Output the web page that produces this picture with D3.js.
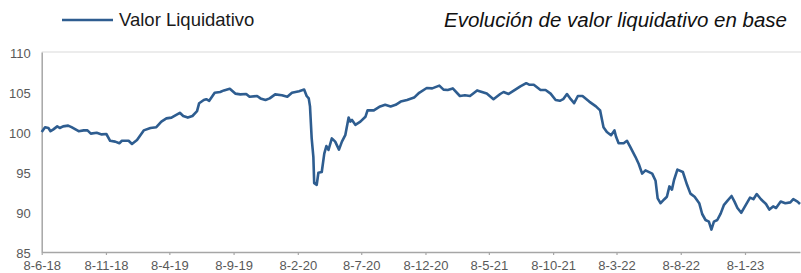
<!DOCTYPE html>
<html>
<head>
<meta charset="utf-8">
<script src="https://cdn.jsdelivr.net/npm/d3@7"></script>
<style>
  body { margin: 0; background: #fff; }
  svg { display: block; font-family: "Liberation Sans", Arial, sans-serif; }
</style>
</head>
<body>
<div id="chart-area"></div>
<script>
// values
let dates = [
  "2018-06-08","2018-06-16","2018-06-24","2018-06-29","2018-07-05","2018-07-15","2018-07-21","2018-07-29",
  "2018-08-10","2018-08-18","2018-09-04","2018-09-16","2018-09-25","2018-10-03","2018-10-17","2018-10-29",
  "2018-11-09","2018-11-18","2018-11-30","2018-12-10","2018-12-16","2019-01-01","2019-01-09","2019-01-21",
  "2019-02-06","2019-02-22","2019-03-08","2019-03-20","2019-04-01","2019-04-13","2019-05-03","2019-05-11",
  "2019-05-22","2019-06-02","2019-06-13","2019-06-18","2019-06-29","2019-07-05","2019-07-12","2019-07-25",
  "2019-08-07","2019-08-16","2019-08-30","2019-09-12","2019-09-24","2019-10-08","2019-10-16","2019-11-03",
  "2019-11-11","2019-11-23","2019-12-03","2019-12-16","2020-01-01","2020-01-14","2020-01-25","2020-02-11",
  "2020-02-23","2020-02-29","2020-03-05","2020-03-08","2020-03-12","2020-03-16","2020-03-18","2020-03-24",
  "2020-03-28","2020-04-05","2020-04-11","2020-04-16","2020-04-21","2020-04-29","2020-05-07","2020-05-16",
  "2020-05-23","2020-05-31","2020-06-08","2020-06-12","2020-06-16","2020-06-24","2020-07-06","2020-07-18",
  "2020-07-23","2020-08-07","2020-08-22","2020-09-03","2020-09-16","2020-09-28","2020-10-10","2020-10-25",
  "2020-11-11","2020-11-23","2020-12-11","2020-12-24","2021-01-10","2021-01-20","2021-01-30","2021-02-11",
  "2021-02-28","2021-03-12","2021-03-24","2021-04-10","2021-05-03","2021-05-19","2021-06-04","2021-06-12",
  "2021-06-24","2021-07-10","2021-07-22","2021-08-05","2021-08-13","2021-08-23","2021-09-08","2021-09-20",
  "2021-10-02","2021-10-14","2021-10-24","2021-11-01","2021-11-10","2021-11-19","2021-11-27","2021-12-06",
  "2021-12-17","2022-01-02","2022-01-18","2022-01-28","2022-02-05","2022-02-13","2022-02-23","2022-03-03",
  "2022-03-07","2022-03-13","2022-03-25","2022-04-02","2022-04-10","2022-04-22","2022-04-30","2022-05-08",
  "2022-05-16","2022-06-01","2022-06-09","2022-06-14","2022-06-21","2022-06-30","2022-07-06","2022-07-12",
  "2022-07-18","2022-07-23","2022-07-31","2022-08-13","2022-08-23","2022-08-31","2022-09-10","2022-09-21",
  "2022-09-28","2022-10-06","2022-10-14","2022-10-20","2022-10-26","2022-11-03","2022-11-11","2022-11-19",
  "2022-11-27","2022-12-07","2022-12-14","2022-12-21","2022-12-30","2023-01-10","2023-01-20","2023-01-28",
  "2023-02-05","2023-02-15","2023-02-27","2023-03-07","2023-03-16","2023-03-23","2023-04-03","2023-04-14",
  "2023-04-26","2023-05-03","2023-05-13","2023-05-19"
]
let values = [
  100.0,100.6,100.5,100.1,100.3,100.7,100.5,100.7,
  100.8,100.6,100.1,100.2,100.2,99.8,99.9,99.7,
  99.75,98.9,98.8,98.6,98.9,98.9,98.5,99.0,
  100.2,100.5,100.6,101.3,101.7,101.8,102.4,102.0,
  101.8,102.0,102.6,103.6,104.0,104.1,103.9,104.9,
  105.0,105.2,105.4,104.8,104.7,104.75,104.4,104.5,
  104.2,104.0,104.2,104.7,104.6,104.4,104.9,105.1,
  105.3,104.5,104.2,103.2,99.2,96.9,93.6,93.4,
  94.9,95.0,97.3,98.25,97.75,99.2,98.8,97.8,
  98.8,99.6,101.8,101.3,101.5,100.9,101.3,101.9,
  102.7,102.7,103.2,103.4,103.2,103.4,103.8,104.0,
  104.3,104.9,105.5,105.45,105.8,105.3,105.25,105.45,
  104.5,104.6,104.5,105.2,104.8,104.1,104.75,105.0,
  104.75,105.3,105.7,106.1,105.9,105.9,105.25,105.25,
  104.8,104.0,103.9,104.1,104.75,104.1,103.6,104.5,
  104.5,103.8,103.2,102.7,100.6,100.0,99.6,100.2,
  99.4,98.6,98.6,98.9,98.1,96.9,96.0,94.8,
  95.2,94.8,93.9,91.7,91.1,91.6,91.9,93.2,
  92.8,94.0,95.3,95.0,93.4,92.3,91.9,91.1,
  89.75,89.0,88.8,87.8,88.8,89.0,89.8,90.9,
  91.4,92.0,91.3,90.5,89.9,90.9,91.8,91.6,
  92.25,91.6,91.0,90.3,90.7,90.5,91.3,91.1,
  91.2,91.6,91.3,91.0
]
let xTicks = ["2018-06-08","2018-11-08","2019-04-08","2019-09-08","2020-02-08","2020-07-08",
  "2020-12-08","2021-05-08","2021-10-08","2022-03-08","2022-08-08","2023-01-08"]
let yTicks = [85, 90, 95, 100, 105, 110]
let seriesName = "Valor Liquidativo"
let chartTitle = "Evolución de valor liquidativo en base"

let width = 801
let height = 273
let margin = {top: 52, right: 1, bottom: 21, left: 41.7}
let lineColor = "#2e5d90"

let parse = d3.timeParse("%Y-%m-%d")
let data = dates.map((d, i) => ({date: parse(d), value: values[i]}))

let svg = d3.select("#chart-area").append("svg")
  .attr("width", width)
  .attr("height", height)

let x = d3.scaleTime()
  .domain([parse("2018-06-08"), parse("2023-05-19")])
  .range([margin.left, 800])

let y = d3.scaleLinear()
  .domain([85, 110])
  .range([height - margin.bottom, margin.top])

// top gridline at 110
svg.append("line")
  .attr("x1", margin.left).attr("x2", width)
  .attr("y1", y(110)).attr("y2", y(110))
  .attr("stroke", "#d9d9d9").attr("stroke-width", 1.2)

// y axis
let yAxis = svg.append("g")
  .attr("transform", "translate(" + margin.left + ",0)")
  .call(d3.axisLeft(y).tickValues(yTicks).tickSize(0).tickPadding(11))
yAxis.select(".domain").attr("stroke", "#a6a6a6").attr("stroke-width", 1.5)
yAxis.selectAll("text")
  .attr("font-size", "13px")
  .attr("fill", "#595959")
  .attr("font-family", "Liberation Sans, Arial, sans-serif")
  .attr("dy", "0.4em")

// x axis
let xAxis = svg.append("g")
  .attr("transform", "translate(0," + y(85) + ")")
  .call(d3.axisBottom(x)
    .tickValues(xTicks.map(parse))
    .tickSize(3)
    .tickSizeOuter(0)
    .tickFormat(d3.timeFormat("%-d-%-m-%y")))
xAxis.select(".domain").attr("stroke", "#a6a6a6").attr("stroke-width", 1.5)
xAxis.selectAll(".tick line").attr("stroke", "#a6a6a6").attr("stroke-width", 1.2)
xAxis.selectAll("text")
  .attr("font-size", "13px")
  .attr("fill", "#595959")
  .attr("font-family", "Liberation Sans, Arial, sans-serif")
  .attr("y", 8.8)

// the series
let line = d3.line()
  .x(d => x(d.date))
  .y(d => y(d.value))

svg.append("path")
  .datum(data)
  .attr("fill", "none")
  .attr("stroke", lineColor)
  .attr("stroke-width", 2.6)
  .attr("stroke-linejoin", "round")
  .attr("d", line)

// legend
svg.append("line")
  .attr("x1", 62).attr("x2", 113)
  .attr("y1", 20).attr("y2", 20)
  .attr("stroke", lineColor).attr("stroke-width", 2.6)
svg.append("text")
  .attr("x", 119)
  .attr("y", 26)
  .attr("font-size", "18.5px")
  .attr("fill", "#1a1a1a")
  .text(seriesName)

// title
svg.append("text")
  .attr("x", 787)
  .attr("y", 26.5)
  .attr("text-anchor", "end")
  .attr("font-size", "20.5px")
  .attr("font-style", "italic")
  .attr("fill", "#111")
  .text(chartTitle)
</script>
</body>
</html>
